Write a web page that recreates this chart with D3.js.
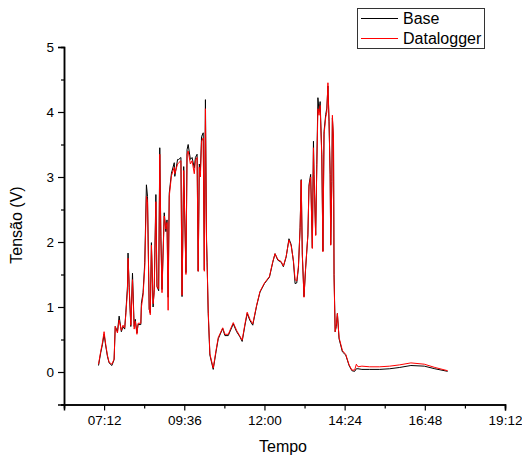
<!DOCTYPE html>
<html>
<head>
  <meta charset="utf-8">
  <style>
    body { margin: 0; background: #fff; }
    text { font-family: "Liberation Sans", Arial, sans-serif; }
  </style>
  <title>Tensão x Tempo</title>
</head>
<body>
  <script src="https://cdn.jsdelivr.net/npm/d3@7"></script>
  <script>
    // data
    var times = [
      "07:02","07:06","07:09","07:12","07:15","07:18","07:21","07:26","07:30","07:32",
      "07:36","07:39","07:43","07:46","07:49","07:51","07:54","07:55","07:57","08:00",
      "08:03","08:06","08:08","08:11","08:13","08:18","08:19","08:22","08:25","08:28",
      "08:30","08:33","08:35","08:37","08:40","08:42","08:45","08:47","08:50","08:52",
      "08:54","08:56","09:00","09:03","09:05","09:07","09:09","09:13","09:18","09:19",
      "09:24","09:26","09:30","09:32","09:35","09:39","09:41","09:43","09:47","09:50",
      "09:54","09:56","09:59","10:01","10:03","10:05","10:07","10:10","10:12","10:14",
      "10:16","10:17","10:19","10:22","10:28","10:33","10:37","10:45","10:49","10:55",
      "11:04","11:10","11:16","11:20","11:25","11:29","11:34","11:39","11:46","11:52",
      "12:00","12:09","12:15","12:19","12:24","12:30","12:34","12:39","12:44","12:48",
      "12:52","12:55","12:58","13:01","13:04","13:06","13:08","13:11","13:14","13:18",
      "13:20","13:23","13:26","13:28","13:29","13:32","13:34","13:36","13:38","13:40",
      "13:43","13:45","13:47","13:50","13:52","13:54","13:56","13:58","13:59","14:01",
      "14:02","14:04","14:05","14:07","14:09","14:11","14:14","14:20","14:26","14:32",
      "14:37","14:42","14:45","14:48","14:55","15:09","15:27","15:45","16:03","16:23",
      "16:47","17:06","17:29"
    ];
    var base = [
      0.10,0.30,0.42,0.58,0.40,0.24,0.14,0.10,0.19,0.70,
      0.62,0.86,0.62,0.70,0.66,0.91,1.32,1.83,1.30,0.70,
      1.52,0.70,0.81,0.60,0.73,0.73,1.06,1.22,1.68,2.88,
      2.70,0.96,0.91,1.99,1.00,1.27,2.73,1.32,1.25,3.45,
      2.09,1.27,2.45,2.16,2.34,1.15,2.75,3.06,3.22,3.01,
      3.27,3.27,3.30,1.16,3.16,1.53,3.42,3.50,3.27,3.30,
      3.14,3.30,3.35,1.55,3.20,3.10,3.62,3.68,1.57,4.19,
      2.04,1.68,0.90,0.26,0.04,0.31,0.51,0.67,0.56,0.56,
      0.74,0.62,0.54,0.47,0.72,0.90,0.79,0.72,1.02,1.23,
      1.36,1.46,1.69,1.82,1.72,1.69,1.62,1.77,2.05,1.96,
      1.70,1.36,1.37,1.60,2.22,2.96,1.80,1.16,1.60,2.11,
      2.88,3.04,1.91,3.55,3.04,2.11,3.19,4.22,4.01,4.16,
      3.34,1.86,3.70,3.96,4.06,4.40,3.86,3.04,1.96,2.93,
      3.91,3.55,1.50,0.62,0.70,0.90,0.51,0.31,0.26,0.10,
      0.02,0.01,0.05,0.05,0.04,0.04,0.04,0.05,0.07,0.10,
      0.09,0.05,0.01
    ];
    var datalogger = [
      0.12,0.32,0.45,0.62,0.42,0.26,0.15,0.12,0.20,0.70,
      0.60,0.80,0.64,0.72,0.68,0.88,1.25,1.75,1.35,0.72,
      1.42,0.66,0.78,0.58,0.75,0.75,1.00,1.18,1.60,2.70,
      2.62,0.98,0.88,1.95,1.05,1.22,2.62,1.30,1.28,3.35,
      2.05,1.22,2.40,2.20,2.30,0.95,2.70,3.02,3.15,3.05,
      3.20,3.22,3.25,1.18,3.10,1.50,3.35,3.40,3.20,3.25,
      3.05,3.25,3.30,1.55,3.15,3.00,3.55,3.60,1.55,4.05,
      2.00,1.70,0.95,0.28,0.06,0.33,0.53,0.68,0.58,0.58,
      0.76,0.64,0.55,0.49,0.74,0.92,0.81,0.74,1.03,1.24,
      1.37,1.47,1.70,1.82,1.73,1.70,1.63,1.78,2.03,1.94,
      1.72,1.42,1.40,1.62,2.20,2.95,1.82,1.15,1.62,2.10,
      2.85,3.00,1.90,3.45,3.00,2.10,3.15,4.05,3.95,4.10,
      3.30,1.85,3.65,3.92,4.00,4.45,3.85,3.00,1.95,2.90,
      3.95,3.60,1.45,0.62,0.72,0.90,0.53,0.33,0.27,0.11,
      0.03,0.03,0.12,0.08,0.09,0.08,0.08,0.09,0.11,0.14,
      0.12,0.07,0.02
    ];
    var majorTicks = ["07:12","09:36","12:00","14:24","16:48","19:12"];
    var minorTicks = ["06:00","08:24","10:48","13:12","15:36","18:00"];
    var yMajor = [0, 1, 2, 3, 4, 5];
    var yMinor = [-0.5, 0.5, 1.5, 2.5, 3.5, 4.5];
    var seriesNames = ["Base", "Datalogger"];
    var seriesColors = ["#000000", "#ff0000"];

    var width = 522, height = 458;
    var parseTime = d3.timeParse("%H:%M");
    var fmt = d3.timeFormat("%H:%M");

    var x = d3.scaleTime()
      .domain([parseTime("06:00"), parseTime("19:12")])
      .range([64, 505]);
    var y = d3.scaleLinear().domain([-0.5, 5]).range([404.5, 47]);

    var svg = d3.select("body").append("svg")
      .attr("width", width)
      .attr("height", height);

    // series
    var line = d3.line()
      .x(function(d) { return x(d.t); })
      .y(function(d) { return y(d.v); });

    [base, datalogger].forEach(function(vals, i) {
      var data = times.map(function(t, j) { return { t: parseTime(t), v: vals[j] }; });
      svg.append("path")
        .datum(data)
        .attr("fill", "none")
        .attr("stroke", seriesColors[i])
        .attr("stroke-width", 1)
        .attr("d", line);
    });

    // x axis: major + minor ticks
    var xMinorAxis = d3.axisBottom(x)
      .tickValues(minorTicks.map(parseTime))
      .tickSize(4).tickFormat("");
    svg.append("g")
      .attr("transform", "translate(0,404.5)")
      .call(xMinorAxis);

    var xAxis = d3.axisBottom(x)
      .tickValues(majorTicks.map(parseTime))
      .tickSize(6).tickPadding(5).tickFormat(fmt);
    svg.append("g")
      .attr("class", "xaxis")
      .attr("transform", "translate(0,404.5)")
      .call(xAxis);

    // y axis
    var yMinorAxis = d3.axisLeft(y).tickValues(yMinor).tickSize(3).tickFormat("");
    svg.append("g").attr("transform", "translate(64,0)").call(yMinorAxis);

    var yAxis = d3.axisLeft(y).tickValues(yMajor).tickSize(6).tickPadding(4)
      .tickFormat(d3.format("d"));
    svg.append("g")
      .attr("class", "yaxis")
      .attr("transform", "translate(64,0)")
      .call(yAxis);

    svg.selectAll(".domain").attr("stroke", "#000").attr("stroke-width", 1.5);
    svg.selectAll(".tick line").attr("stroke", "#000").attr("stroke-width", 1.2);
    svg.selectAll(".tick text")
      .attr("fill", "#000")
      .style("font-family", "'Liberation Sans', Arial, sans-serif")
      .style("font-size", "13.5px");

    // axis labels
    svg.append("text")
      .attr("x", 283)
      .attr("y", 452)
      .attr("text-anchor", "middle")
      .style("font-size", "16px")
      .text("Tempo");

    svg.append("text")
      .attr("transform", "translate(22,225) rotate(-90)")
      .attr("text-anchor", "middle")
      .style("font-size", "16px")
      .text("Tensão (V)");

    // legend
    var legend = svg.append("g");
    legend.append("rect")
      .attr("x", 357.5).attr("y", 8.5)
      .attr("width", 127).attr("height", 40)
      .attr("fill", "#fff")
      .attr("stroke", "#333")
      .attr("stroke-width", 1);
    seriesNames.forEach(function(name, i) {
      legend.append("line")
        .attr("x1", 361).attr("x2", 398)
        .attr("y1", 18.5 + i * 20).attr("y2", 18.5 + i * 20)
        .attr("stroke", seriesColors[i])
        .attr("stroke-width", 1);
      legend.append("text")
        .attr("x", 403)
        .attr("y", 24 + i * 20)
        .style("font-size", "16px")
        .text(name);
    });
  </script>
</body>
</html>
